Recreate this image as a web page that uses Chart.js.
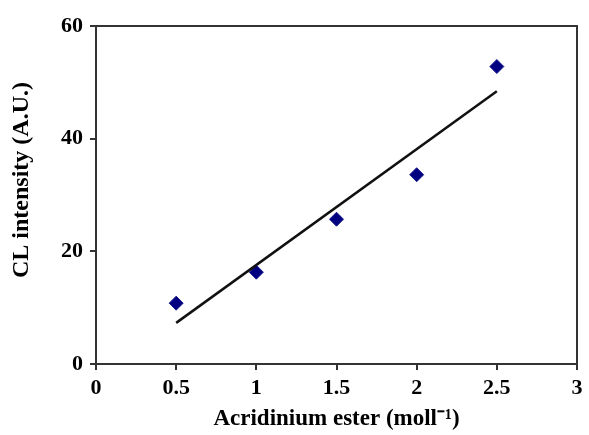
<!DOCTYPE html>
<html>
<head>
<meta charset="utf-8">
<script src="https://cdn.jsdelivr.net/npm/chart.js@4"></script>
<style>
  html, body { margin: 0; padding: 0; background: #fff; }
  #chart { display: block; }
</style>
</head>
<body>
<canvas id="chart" width="589" height="435"></canvas>
<script>
// ======= DATA =======
const concX = [0.5, 1, 1.5, 2, 2.5];
const intensityY = [10.8, 16.3, 25.7, 33.6, 52.8];
// linear trend line endpoints
const trendX = [0.5, 2.5];
const trendY = [7.3, 48.4];
const xTicks = [0, 0.5, 1, 1.5, 2, 2.5, 3];
const yTicks = [0, 20, 40, 60];

const axisColor = '#333333';
const serif = "'Liberation Serif', 'Times New Roman', serif";

// box round the plot area (top and right sides)
const frameBox = {
  id: 'frameBox',
  afterDraw(chart) {
    const { ctx, chartArea: a } = chart;
    ctx.save();
    ctx.strokeStyle = axisColor;
    ctx.lineWidth = 2;
    ctx.beginPath();
    ctx.moveTo(a.left, a.top);
    ctx.lineTo(a.right, a.top);
    ctx.lineTo(a.right, a.bottom);
    ctx.stroke();
    ctx.restore();
  }
};

const ctx = document.getElementById('chart').getContext('2d');
new Chart(ctx, {
  type: 'scatter',
  data: {
    datasets: [
      {
        label: 'Trend',
        type: 'line',
        data: trendX.map((x, i) => ({ x: x, y: trendY[i] })),
        borderColor: '#111111',
        borderWidth: 2.5,
        pointRadius: 0,
        fill: false
      },
      {
        label: 'CL intensity',
        data: concX.map((x, i) => ({ x: x, y: intensityY[i] })),
        pointStyle: 'rectRot',
        pointRadius: 7,
        backgroundColor: '#000080',
        borderColor: '#1a1a8c',
        borderWidth: 1
      }
    ]
  },
  options: {
    responsive: false,
    animation: false,
    layout: { padding: { top: 26, right: 12, left: 7, bottom: 2 } },
    plugins: {
      legend: { display: false },
      tooltip: { enabled: false }
    },
    scales: {
      x: {
        type: 'linear',
        min: 0,
        max: 3,
        afterBuildTicks: (axis) => { axis.ticks = xTicks.map(v => ({ value: v })); },
        afterFit: (axis) => { axis.height = 69; },
        grid: { drawOnChartArea: false, drawTicks: true, tickLength: 6, color: axisColor, lineWidth: 2 },
        border: { display: true, color: axisColor, width: 2 },
        ticks: {
          color: '#000',
          padding: 5,
          maxRotation: 0,
          callback: (v) => String(v),
          font: { family: serif, size: 22, weight: 'bold' }
        },
        title: {
          display: true,
          text: 'Acridinium ester (moll⁻¹)',
          color: '#000',
          padding: { top: 0, bottom: 0 },
          font: { family: serif, size: 23, weight: 'bold' }
        }
      },
      y: {
        min: 0,
        max: 60,
        afterBuildTicks: (axis) => { axis.ticks = yTicks.map(v => ({ value: v })); },
        afterFit: (axis) => { axis.width = 89; },
        grid: { drawOnChartArea: false, drawTicks: true, tickLength: 6, color: axisColor, lineWidth: 2 },
        border: { display: true, color: axisColor, width: 2 },
        ticks: {
          color: '#000',
          padding: 7,
          font: { family: serif, size: 22, weight: 'bold' }
        },
        title: {
          display: true,
          // leading spaces nudge the title up a bit, like the original
          text: '     CL intensity (A.U.)',
          color: '#000',
          padding: { top: 0, bottom: 0 },
          font: { family: serif, size: 24, weight: 'bold' }
        }
      }
    }
  },
  plugins: [frameBox]
});
</script>
</body>
</html>
